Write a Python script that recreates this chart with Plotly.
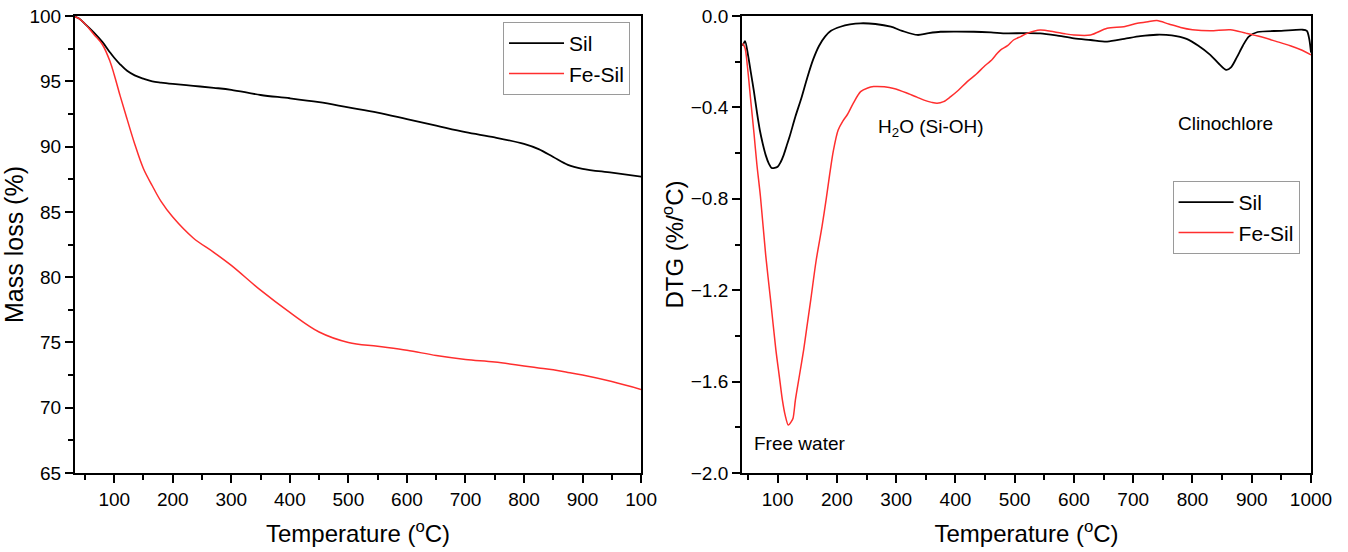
import plotly.graph_objects as go

# ---------------- data ----------------
tga_temp = [33, 40, 50, 65, 80, 93, 100, 110, 122, 135, 150, 165, 180, 200, 235, 270,
            300, 350, 400, 450, 500, 550, 600, 650, 700, 750, 800, 825, 850,
            875, 900, 950, 1000]
tga_sil = [99.95, 99.8, 99.4, 98.75, 98.0, 97.2, 96.8, 96.3, 95.8, 95.45, 95.2, 95.0,
           94.9, 94.8, 94.65, 94.5, 94.35, 93.95, 93.7, 93.4, 93.0, 92.6, 92.1,
           91.6, 91.1, 90.7, 90.2, 89.8, 89.2, 88.6, 88.3, 88.0, 87.7]
tga_fesil = [99.95, 99.8, 99.4, 98.6, 97.8, 96.5, 95.5, 93.9, 92.1, 90.2, 88.3, 87.0,
             85.8, 84.6, 83.0, 81.9, 80.9, 79.0, 77.3, 75.8, 75.0, 74.7, 74.4,
             74.0, 73.7, 73.5, 73.2, 73.05, 72.9, 72.7, 72.5, 72.0, 71.4]

dtg_sil_temp = [41, 45, 50, 55, 60, 65, 70, 75, 80, 85, 90, 95, 100, 105, 110, 115, 120,
                130, 140, 150, 160, 170, 180, 190, 206, 222, 240, 265, 291, 310, 336,
                355, 375, 400, 431, 460, 487, 515, 543, 570, 600, 628, 656, 685, 712,
                740, 765, 790, 810, 830, 845, 857, 865, 875, 885, 895, 910, 950, 985,
                993, 997, 1000]
dtg_sil = [-0.13, -0.11, -0.17, -0.25, -0.33, -0.42, -0.50, -0.56, -0.61, -0.645, -0.665,
           -0.665, -0.66, -0.64, -0.61, -0.57, -0.53, -0.44, -0.36, -0.27, -0.19, -0.13,
           -0.09, -0.065, -0.047, -0.037, -0.032, -0.035, -0.047, -0.065, -0.083, -0.075,
           -0.069, -0.068, -0.069, -0.072, -0.076, -0.075, -0.076, -0.085, -0.098, -0.105,
           -0.112, -0.10, -0.088, -0.082, -0.085, -0.10, -0.13, -0.17, -0.21, -0.236,
           -0.225, -0.18, -0.13, -0.09, -0.07, -0.065, -0.06, -0.065, -0.10, -0.16]

dtg_fesil_temp = [41, 45, 49, 55, 60, 65, 71, 80, 88, 97, 103, 108, 113, 118, 123, 126,
                  130, 137, 144, 150, 156, 165, 175, 182, 188, 194, 202, 210, 218, 228,
                  240, 252, 262, 280, 296, 319, 335, 347, 360, 369, 380, 392, 405, 420,
                  435, 448, 462, 470, 476, 488, 498, 510, 521, 543, 566, 585, 600, 628,
                  656, 684, 707, 725, 740, 760, 780, 800, 830, 864, 890, 914, 940, 965,
                  985, 1000]
dtg_fesil = [-0.12, -0.14, -0.22, -0.38, -0.51, -0.65, -0.79, -1.05, -1.24, -1.46, -1.58,
             -1.68, -1.75, -1.79, -1.775, -1.76, -1.68, -1.57, -1.46, -1.35, -1.24, -1.07,
             -0.92, -0.80, -0.69, -0.59, -0.50, -0.46, -0.43, -0.38, -0.331, -0.315,
             -0.309, -0.31, -0.317, -0.338, -0.355, -0.368, -0.378, -0.382, -0.375,
             -0.353, -0.325, -0.287, -0.255, -0.222, -0.19, -0.165, -0.149, -0.13, -0.105,
             -0.09, -0.076, -0.061, -0.069, -0.078, -0.083, -0.083, -0.054, -0.047,
             -0.032, -0.025, -0.02, -0.035, -0.05, -0.06, -0.065, -0.06, -0.075, -0.09,
             -0.11, -0.13, -0.15, -0.17]

x_tickvals = [100, 200, 300, 400, 500, 600, 700, 800, 900, 1000]
x_ticktext_left = ["100", "200", "300", "400", "500", "600", "700", "800", "900", "100"]
x_ticktext_right = ["100", "200", "300", "400", "500", "600", "700", "800", "900", "1000"]
x_minor = [50, 150, 250, 350, 450, 550, 650, 750, 850, 950]

# ---------------- figure ----------------
FONT = "Liberation Sans, Arial, sans-serif"
RED = "#ff2e2e"
fig = go.Figure()

fig.add_trace(go.Scatter(x=tga_temp, y=tga_sil, mode="lines", name="Sil",
                         line=dict(color="black", width=1.8, shape="spline"),
                         xaxis="x", yaxis="y", legend="legend"))
fig.add_trace(go.Scatter(x=tga_temp, y=tga_fesil, mode="lines", name="Fe-Sil",
                         line=dict(color=RED, width=1.5, shape="spline"),
                         xaxis="x", yaxis="y", legend="legend"))
fig.add_trace(go.Scatter(x=dtg_sil_temp, y=dtg_sil, mode="lines", name="Sil",
                         line=dict(color="black", width=1.8, shape="spline", smoothing=0.8),
                         xaxis="x2", yaxis="y2", legend="legend2"))
fig.add_trace(go.Scatter(x=dtg_fesil_temp, y=dtg_fesil, mode="lines", name="Fe-Sil",
                         line=dict(color=RED, width=1.5, shape="spline", smoothing=0.8),
                         xaxis="x2", yaxis="y2", legend="legend2"))

axis_common = dict(showline=True, linecolor="black", linewidth=2, mirror=True,
                   ticks="outside", ticklen=8, tickwidth=1.5, tickcolor="black",
                   showgrid=False, zeroline=False, automargin=False,
                   tickfont=dict(family=FONT, size=19, color="black"))
minor_common = dict(ticks="outside", ticklen=5, tickwidth=1.5, tickcolor="black")

title_font = dict(family=FONT, size=24, color="black")
legend_common = dict(xanchor="left", yanchor="top", bordercolor="#9a9a9a", borderwidth=1,
                     bgcolor="white", font=dict(family=FONT, size=21, color="black"),
                     tracegroupgap=0, itemwidth=55)
ann_font = dict(family=FONT, size=19, color="black")

fig.update_layout(
    width=1348, height=552,
    margin=dict(l=75, r=37, t=16, b=79, autoexpand=False),
    paper_bgcolor="white", plot_bgcolor="white",
    font=dict(family=FONT, color="black"),
    xaxis=dict(domain=[0, 0.458], range=[33, 1000], tickvals=x_tickvals,
               ticktext=x_ticktext_left, minor=dict(tickvals=x_minor, **minor_common),
               title=dict(text="Temperature (<sup>o</sup>C)", font=title_font, standoff=16),
               anchor="y", **axis_common),
    yaxis=dict(domain=[0, 1], range=[65, 100], tickvals=[65, 70, 75, 80, 85, 90, 95, 100],
               minor=dict(dtick=2.5, **minor_common),
               title=dict(text="Mass loss (%)", font=dict(family=FONT, size=25, color="black"),
                          standoff=4),
               anchor="x", **axis_common),
    xaxis2=dict(domain=[0.5397, 1], range=[40, 1000], tickvals=x_tickvals,
                ticktext=x_ticktext_right, minor=dict(tickvals=x_minor, **minor_common),
                title=dict(text="Temperature (<sup>o</sup>C)", font=title_font, standoff=16),
                anchor="y2", **axis_common),
    yaxis2=dict(domain=[0, 1], range=[-2.0, 0.0],
                tickvals=[-2.0, -1.6, -1.2, -0.8, -0.4, 0.0], tickformat=".1f",
                minor=dict(dtick=0.2, **minor_common),
                title=dict(text="DTG (%/<sup>o</sup>C)", font=title_font, standoff=0),
                anchor="x2", **axis_common),
    legend=dict(x=0.3463, y=0.987, **legend_common),
    legend2=dict(x=0.888, y=0.639, **legend_common),
    annotations=[
        dict(x=137, y=-1.87, xref="x2", yref="y2", text="Free water", showarrow=False,
             font=ann_font),
        dict(x=358, y=-0.49, xref="x2", yref="y2", text="H<sub>2</sub>O (Si-OH)",
             showarrow=False, font=ann_font),
        dict(x=855, y=-0.47, xref="x2", yref="y2", text="Clinochlore", showarrow=False,
             font=ann_font),
    ],
)

fig.write_html("out.html")
